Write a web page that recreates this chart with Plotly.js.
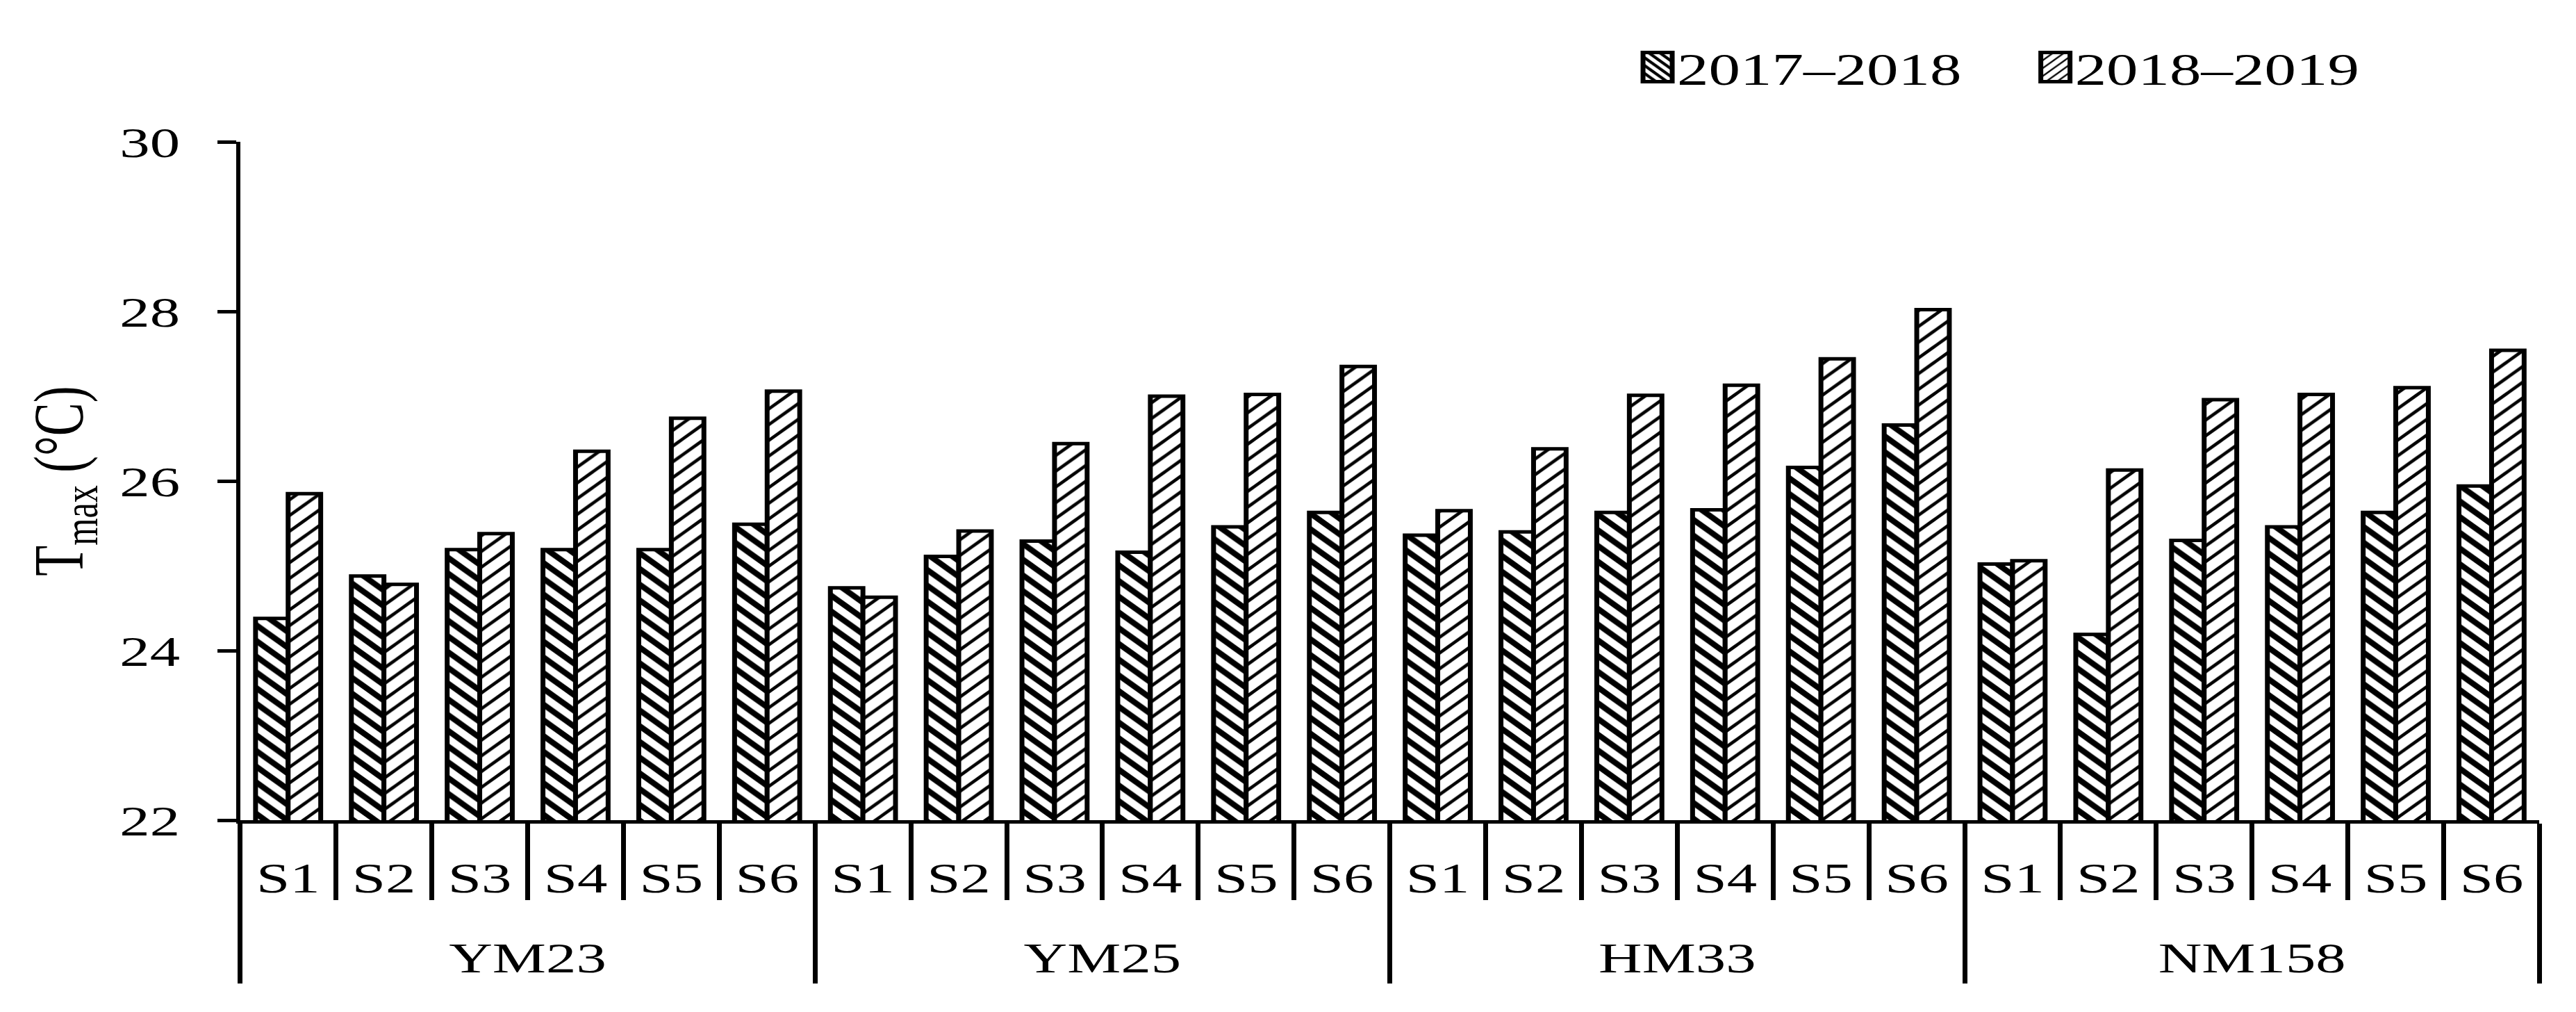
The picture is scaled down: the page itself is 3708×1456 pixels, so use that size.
<!DOCTYPE html>
<html>
<head>
<meta charset="utf-8">
<script src="https://cdn.plot.ly/plotly-3.0.1.min.js"></script>
<style>
    html, body { margin: 0; padding: 0; background: #ffffff; overflow: hidden; }
    /* the reference figure is stretched sideways, so the plot is drawn narrow and widened */
    #chart { width: 2649px; height: 1456px; transform: scaleX(1.4); transform-origin: 0 0; }
</style>
</head>
<body>
<div id="chart"></div>
<script>
var groups = ["YM23", "YM25", "HM33", "NM158"];
var stages = ["S1", "S2", "S3", "S4", "S5", "S6"];
var seasons = ["2017\u20132018", "2018\u20132019"];

var tmax2017 = [
    24.38, 24.88, 25.19, 25.19, 25.19, 25.49,
    24.74, 25.11, 25.29, 25.16, 25.46, 25.63,
    25.36, 25.40, 25.63, 25.66, 26.16, 26.66,
    25.02, 24.19, 25.30, 25.46, 25.63, 25.94
];
var tmax2018 = [
    25.85, 24.78, 25.38, 26.35, 26.74, 27.06,
    24.63, 25.41, 26.44, 27.00, 27.02, 27.35,
    25.65, 26.38, 27.01, 27.13, 27.44, 28.02,
    25.06, 26.13, 26.96, 27.02, 27.10, 27.54
];

var yTickValues = [22, 24, 26, 28, 30];

var fontFamily = "Liberation Serif, Times New Roman, serif";

// an empty small second line under each stage label pushes the variety names further down
var stageLabelPadding = "<br><span style='font-size:8px'>\u00a0</span>";

var groupLevel = [];
var stageLevel = [];

for (var g = 0; g < groups.length; g++)
{
    for (var s = 0; s < stages.length; s++)
    {
        groupLevel.push(groups[g]);
        stageLevel.push(stages[s] + stageLabelPadding);
    }
}

var firstSeasonTrace =
{
    x: [groupLevel, stageLevel],
    y: tmax2017,
    name: seasons[0],
    type: "bar",
    marker:
    {
        color: "#ffffff",
        line: { color: "#000000", width: 5 },
        pattern: { shape: "\\", fgcolor: "#000000", bgcolor: "#ffffff", size: 16, solidity: 0.45 }
    }
};

var secondSeasonTrace =
{
    x: [groupLevel, stageLevel],
    y: tmax2018,
    name: seasons[1],
    type: "bar",
    marker:
    {
        color: "#ffffff",
        line: { color: "#000000", width: 5 },
        pattern: { shape: "/", fgcolor: "#000000", bgcolor: "#ffffff", size: 16, solidity: 0.25 }
    }
};

var layout =
{
    width: 2649,
    height: 1456,
    margin: { l: 247, r: 38, t: 204, b: 276 },
    paper_bgcolor: "#ffffff",
    plot_bgcolor: "#ffffff",
    font: { family: fontFamily, size: 62, color: "#000000" },
    barmode: "group",
    bargap: 0.32,
    bargroupgap: 0,
    showlegend: true,
    legend:
    {
        orientation: "h",
        x: 0.608,
        xanchor: "left",
        y: 1.11,
        yanchor: "middle",
        font: { family: fontFamily, size: 65, color: "#000000" },
        itemwidth: 30,
        entrywidth: 364,
        bgcolor: "rgba(0,0,0,0)"
    },
    xaxis:
    {
        type: "multicategory",
        range: [-0.5, 23.5],
        showline: true,
        linecolor: "#000000",
        linewidth: 5,
        ticks: "outside",
        tickson: "boundaries",
        ticklen: 110,
        tickwidth: 5,
        tickcolor: "#000000",
        ticklabelstandoff: 25,
        showdividers: true,
        dividercolor: "#000000",
        dividerwidth: 5,
        showgrid: false,
        zeroline: false,
        tickfont: { family: fontFamily, size: 62, color: "#000000" }
    },
    yaxis:
    {
        range: [22, 30],
        tickvals: yTickValues,
        showline: true,
        linecolor: "#000000",
        linewidth: 4.5,
        ticks: "outside",
        ticklen: 19,
        tickwidth: 5,
        tickcolor: "#000000",
        ticklabelstandoff: 26,
        showgrid: false,
        zeroline: false,
        tickfont: { family: fontFamily, size: 62, color: "#000000" },
        title:
        {
            text: "T<sub>max</sub> (\u00b0C)",
            font: { family: fontFamily, size: 72, color: "#000000" },
            standoff: 15
        }
    }
};

var config = { staticPlot: true, displayModeBar: false };

Plotly.newPlot("chart", [firstSeasonTrace, secondSeasonTrace], layout, config).then(function (gd)
{
    // the legend keys in the reference are much bigger than plotly's fixed 12px squares
    gd.querySelectorAll(".legend .legendpoints path").forEach(function (key)
    {
        key.setAttribute("d", "M15,21H-15V-21H15Z");
    });
});
</script>
</body>
</html>
